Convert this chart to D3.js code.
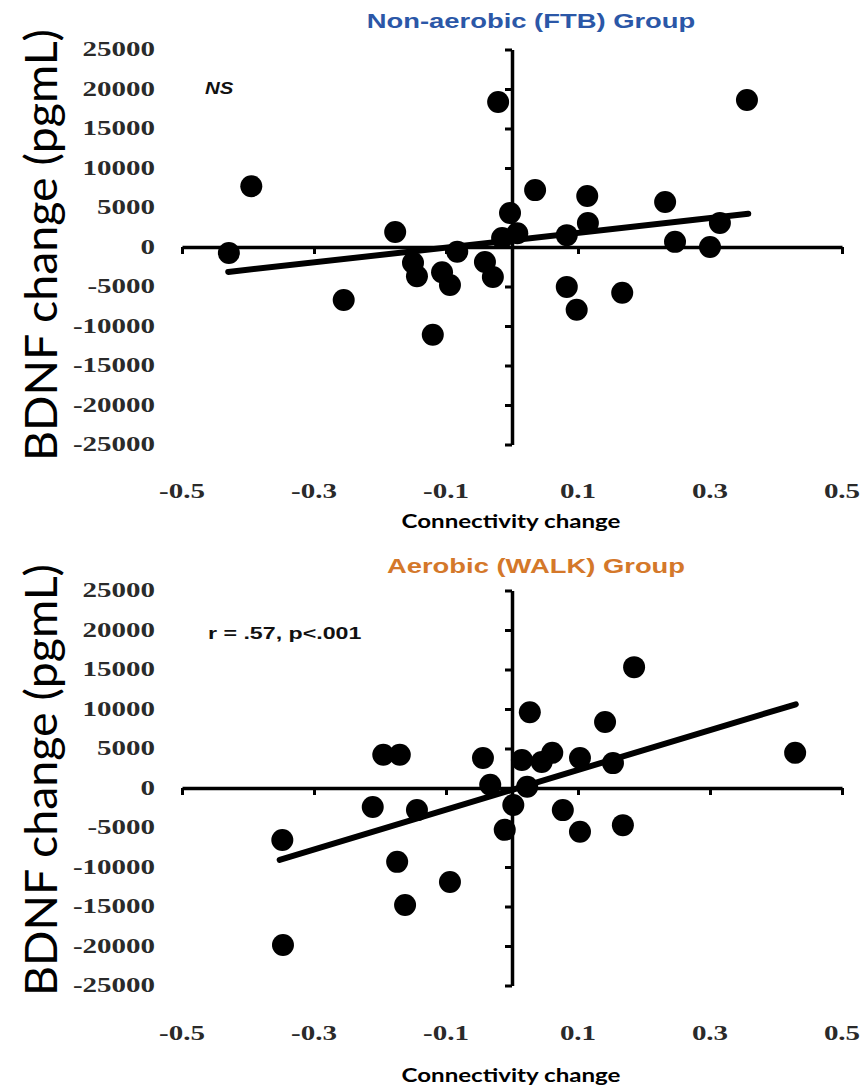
<!DOCTYPE html>
<html>
<head>
<meta charset="utf-8">
<script src="https://cdn.jsdelivr.net/npm/d3@7"></script>
<style>
  html, body { margin: 0; padding: 0; background: #fff; }
  svg { display: block; }
</style>
</head>
<body>
<svg id="chart" width="867" height="1090"></svg>
<script>
// ---------------- DATA ----------------
const xTickValues = [-0.5, -0.3, -0.1, 0.1, 0.3, 0.5];
const xTickLabels = ["-0.5", "-0.3", "-0.1", "0.1", "0.3", "0.5"];
const yTickValues = [25000, 20000, 15000, 10000, 5000, 0, -5000, -10000, -15000, -20000, -25000];
const yTickLabels = ["25000", "20000", "15000", "10000", "5000", "0", "-5000", "-10000", "-15000", "-20000", "-25000"];

const panelTitles = ["Non-aerobic (FTB) Group", "Aerobic (WALK) Group"];
const panelNotes = ["NS", "r = .57, p<.001"];
const xAxisTitle = "Connectivity change";
const yAxisTitle = "BDNF change (pgmL)";

// Non-aerobic (FTB) group
const ftbX = [-0.429, -0.395, -0.255, -0.177, -0.150, -0.144, -0.106, -0.094, -0.083, -0.120,
              -0.041, -0.029, -0.021, -0.003, -0.015, 0.008, 0.035, 0.083, 0.083, 0.098,
              0.114, 0.115, 0.167, 0.232, 0.247, 0.300, 0.315, 0.356];
const ftbY = [-750, 7700, -6700, 1900, -2000, -3700, -3200, -4800, -600, -11100,
              -1900, -3800, 18350, 4300, 1150, 1750, 7200, 1500, -5050, -7950,
              6450, 3050, -5800, 5700, 650, 0, 3050, 18600];
const ftbTrendX = [-0.430, 0.358];
const ftbTrendY = [-3160, 4200];

// Aerobic (WALK) group
const walkX = [-0.347, -0.348, -0.211, -0.195, -0.170, -0.174, -0.162, -0.144, -0.094, -0.044,
               -0.033, -0.011, 0.002, 0.015, 0.023, 0.027, 0.045, 0.061, 0.077, 0.103,
               0.103, 0.141, 0.153, 0.168, 0.185, 0.429];
const walkY = [-19870, -6580, -2400, 4200, 4200, -9350, -14800, -2800, -11900, 3800,
               400, -5300, -2150, 3550, 150, 9600, 3300, 4450, -2800, 3800,
               -5550, 8350, 3150, -4700, 15300, 4450];
const walkTrendX = [-0.352, 0.430];
const walkTrendY = [-9100, 10600];

// ---------------- LAYOUT ----------------
const svg = d3.select("#chart");

const panels = [
  { xs: ftbX, ys: ftbY, tx: ftbTrendX, ty: ftbTrendY, title: panelTitles[0], titleColor: "#2B57A7",
    titleX: 531, titleY: 28, note: panelNotes[0], noteX: 205, noteY: 94, noteItalic: true, noteSize: 17, noteSx: 1.2,
    yTop: 49.5, yBot: 444.5, xLabelY: 498, xTitleY: 528, yTitleCenter: 245 },
  { xs: walkX, ys: walkY, tx: walkTrendX, ty: walkTrendY, title: panelTitles[1], titleColor: "#D4782A",
    titleX: 536, titleY: 573, note: panelNotes[1], noteX: 208, noteY: 639, noteItalic: false, noteSize: 16, noteSx: 1.45,
    yTop: 590.5, yBot: 985.5, xLabelY: 1040, xTitleY: 1082, yTitleCenter: 780 }
];

function stretchedText(parent, x, y, str, anchor, sx) {
  const g = parent.append("g").attr("transform", `translate(${x},${y}) scale(${sx},1)`);
  return g.append("text").attr("x", 0).attr("y", 0).attr("text-anchor", anchor).text(str);
}

panels.forEach(p => {
  const x = d3.scaleLinear().domain([-0.5, 0.5]).range([182, 842]);
  const y = d3.scaleLinear().domain([-25000, 25000]).range([p.yBot, p.yTop]);
  const g = svg.append("g");

  const yAxis = d3.axisLeft(y).tickValues(yTickValues).tickSize(7).tickFormat("").tickSizeOuter(0);
  const yg = g.append("g").attr("transform", `translate(${x(0)},0)`).call(yAxis);
  yg.select(".domain").attr("stroke", "#000").attr("stroke-width", 3.5);
  yg.selectAll(".tick line").attr("stroke", "#000").attr("stroke-width", 3);

  const xAxis = d3.axisBottom(x).tickValues(xTickValues).tickSize(7).tickFormat("").tickSizeOuter(0);
  const xg = g.append("g").attr("transform", `translate(0,${y(0)})`).call(xAxis);
  xg.select(".domain").attr("stroke", "#000").attr("stroke-width", 3.5);
  xg.selectAll(".tick line").attr("stroke", "#000").attr("stroke-width", 3);

  yTickValues.forEach((v, i) => {
    stretchedText(g, 155, y(v) + 6.5, yTickLabels[i], "end", 1.45)
      .attr("font-family", "'Liberation Serif', 'DejaVu Serif', serif")
      .attr("font-weight", "bold").attr("font-size", 20).attr("fill", "#2a2a2a");
  });

  xTickValues.forEach((v, i) => {
    stretchedText(g, x(v), p.xLabelY, xTickLabels[i], "middle", 1.45)
      .attr("font-family", "'Liberation Serif', 'DejaVu Serif', serif")
      .attr("font-weight", "bold").attr("font-size", 20).attr("fill", "#2a2a2a");
  });

  g.append("text").attr("x", 511).attr("y", p.xTitleY).attr("text-anchor", "middle")
    .attr("font-family", "Lato, 'Open Sans', sans-serif").attr("font-weight", "bold")
    .attr("font-size", 18).attr("textLength", 219).attr("lengthAdjust", "spacingAndGlyphs")
    .attr("fill", "#000").text(xAxisTitle);

  g.append("text")
    .attr("transform", `translate(57,${p.yTitleCenter}) rotate(-90)`)
    .attr("text-anchor", "middle")
    .attr("font-family", "Lato, 'Open Sans', sans-serif")
    .attr("font-size", 45).attr("textLength", 432).attr("lengthAdjust", "spacingAndGlyphs")
    .attr("fill", "#000").text(yAxisTitle);

  stretchedText(g, p.titleX, p.titleY, p.title, "middle", 1.37)
    .attr("font-family", "'Liberation Sans', Arial, sans-serif").attr("font-weight", "bold")
    .attr("font-size", 20).attr("fill", p.titleColor);

  stretchedText(g, p.noteX, p.noteY, p.note, "start", p.noteSx)
    .attr("font-family", "'Liberation Sans', Arial, sans-serif").attr("font-weight", "bold")
    .attr("font-style", p.noteItalic ? "italic" : "normal")
    .attr("font-size", p.noteSize).attr("fill", "#111");

  const line = d3.line().x(d => x(d[0])).y(d => y(d[1]));
  g.append("path").datum(d3.zip(p.tx, p.ty)).attr("d", line)
    .attr("fill", "none").attr("stroke", "#000").attr("stroke-width", 6).attr("stroke-linecap", "round");

  g.selectAll("circle.pt").data(d3.zip(p.xs, p.ys)).join("circle")
    .attr("class", "pt").attr("cx", d => x(d[0])).attr("cy", d => y(d[1]))
    .attr("r", 11).attr("fill", "#000");
});
</script>
</body>
</html>
